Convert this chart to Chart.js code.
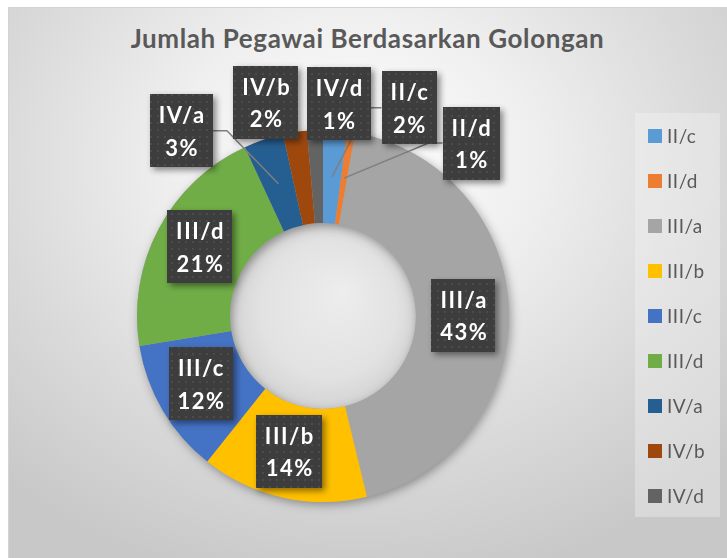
<!DOCTYPE html>
<html><head><meta charset="utf-8">
<script src="https://cdn.jsdelivr.net/npm/chart.js@4.4.1/dist/chart.umd.min.js"></script>
<style>
html,body{margin:0;padding:0;background:#fff;width:727px;height:558px;overflow:hidden;}
#panel{position:absolute;left:8px;top:7px;width:719px;height:551px;box-sizing:border-box;border-left:1px solid #d3d3d3;border-top:1px solid #d3d3d3;
background:radial-gradient(ellipse 72% 78% at 48% 28%, #ffffff 0%, #efefef 35%, #d9d9d9 70%, #c8c8c8 100%);}
#title{position:absolute;left:8px;width:719px;top:22px;line-height:30px;text-align:center;font:bold 26px Lato, sans-serif;letter-spacing:0.6px;color:#595959;}
canvas{position:absolute;left:0;top:0;}
</style></head>
<body>
<div id="panel"></div>
<div id="title">Jumlah Pegawai Berdasarkan Golongan</div>
<canvas id="c" width="727" height="558"></canvas>
<script>
const categories = ['II/c','II/d','III/a','III/b','III/c','III/d','IV/a','IV/b','IV/d'];
const pegawai = [3, 1, 63, 21, 17, 30, 5, 3, 2];
const colors = ['#5B9BD5','#ED7D31','#A5A5A5','#FFC000','#4472C4','#70AD47','#255E91','#9E480E','#636363'];
const labelOffsets = [[77,-69],[127,-35],[1,4],[-4,-1],[-2,-3],[0,-4],[-97,-53],[-36,-76],[22,-73]];
const labelLeader = [true, true, false, false, false, false, true, false, false];

function makePattern(ctx){
  const c = document.createElement('canvas'); c.width = 7; c.height = 7;
  const p = c.getContext('2d');
  p.fillStyle = '#3d3d3d'; p.fillRect(0,0,7,7);
  p.fillStyle = '#4c4c4c'; p.fillRect(3,3,2,2);
  return ctx.createPattern(c, 'repeat');
}

const ringShadow = {
  id: 'ringShadow',
  beforeDatasetsDraw(chart){
    const ctx = chart.ctx;
    const arc = chart.getDatasetMeta(0).data[0];
    const {x, y, innerRadius, outerRadius} = arc.getProps(['x','y','innerRadius','outerRadius'], true);
    ctx.save();
    const g = ctx.createRadialGradient(x+20, y-25, 0, x, y, innerRadius+4);
    g.addColorStop(0, '#ededed'); g.addColorStop(0.7, '#e2e2e2'); g.addColorStop(1, '#d2d2d2');
    ctx.beginPath(); ctx.arc(x, y, innerRadius+2, 0, Math.PI*2); ctx.fillStyle = g; ctx.fill();
    ctx.shadowColor = 'rgba(0,0,0,0.35)'; ctx.shadowBlur = 10; ctx.shadowOffsetX = 2; ctx.shadowOffsetY = 3;
    ctx.beginPath();
    ctx.arc(x, y, outerRadius, 0, Math.PI*2);
    ctx.arc(x, y, innerRadius, 0, Math.PI*2, true);
    ctx.fillStyle = '#a5a5a5'; ctx.fill();
    ctx.restore();
  }
};

const dataLabels = {
  id: 'dataLabels',
  afterDatasetsDraw(chart){
    const ctx = chart.ctx;
    const meta = chart.getDatasetMeta(0);
    const data = chart.data.datasets[0].data;
    const total = data.reduce((a,b)=>a+b, 0);
    ctx.save();
    ctx.font = 'bold 22px Lato, sans-serif';
    ctx.letterSpacing = '1.5px';
    const boxes = meta.data.map((arc, i) => {
      const p = arc.getCenterPoint(true);
      const cx = p.x + labelOffsets[i][0], cy = p.y + labelOffsets[i][1];
      const l1 = chart.data.labels[i], l2 = Math.round(data[i]/total*100) + '%';
      const w = Math.round(Math.max(ctx.measureText(l1).width, ctx.measureText(l2).width) + 16);
      return {p, cx, cy, w, h: 73, l1, l2};
    });
    ctx.strokeStyle = '#7f7f7f'; ctx.lineWidth = 1.5;
    boxes.forEach((b, i) => {
      if (!labelLeader[i]) return;
      const side = b.cx > b.p.x ? -1 : 1;
      const ex = b.cx + side*b.w/2, kx = ex + side*14;
      ctx.beginPath(); ctx.moveTo(b.p.x, b.p.y); ctx.lineTo(kx, b.cy); ctx.lineTo(ex, b.cy); ctx.stroke();
    });
    const pat = makePattern(ctx);
    boxes.forEach(b => {
      const x0 = Math.round(b.cx - b.w/2), y0 = Math.round(b.cy - b.h/2);
      ctx.save();
      ctx.shadowColor = 'rgba(0,0,0,0.45)'; ctx.shadowBlur = 6; ctx.shadowOffsetX = 3; ctx.shadowOffsetY = 3;
      ctx.fillStyle = pat; ctx.fillRect(x0, y0, b.w, b.h);
      ctx.restore();
      ctx.fillStyle = '#ffffff'; ctx.textAlign = 'center'; ctx.textBaseline = 'alphabetic';
      ctx.fillText(b.l1, b.cx + 0.75, b.cy - 7.5);
      ctx.fillText(b.l2, b.cx + 0.75, b.cy + 25);
    });
    ctx.restore();
  }
};

const sideLegend = {
  id: 'sideLegend',
  afterDraw(chart){
    const ctx = chart.ctx;
    const ds = chart.data.datasets[0];
    ctx.save();
    ctx.fillStyle = 'rgba(245,245,245,0.35)';
    ctx.fillRect(635, 113, 85, 404);
    ctx.font = '19px Lato, sans-serif';
    ctx.letterSpacing = '0.5px';
    ctx.textBaseline = 'middle'; ctx.textAlign = 'left';
    chart.data.labels.forEach((lab, i) => {
      const yc = 136 + 45*i;
      ctx.fillStyle = ds.backgroundColor[i];
      ctx.fillRect(648, yc-7, 14, 14);
      ctx.fillStyle = '#595959';
      ctx.fillText(lab, 667, yc+1);
    });
    ctx.restore();
  }
};

new Chart(document.getElementById('c'), {
  type: 'doughnut',
  data: {
    labels: categories,
    datasets: [{ data: pegawai, backgroundColor: colors, borderWidth: 0, hoverOffset: 0, offset: 0 }]
  },
  options: {
    responsive: false, animation: false, devicePixelRatio: 1,
    cutout: '50%',
    layout: { padding: { left: 137, right: 218, top: 130, bottom: 56 } },
    plugins: { legend: { display: false }, title: { display: false }, tooltip: { enabled: false } },
    events: []
  },
  plugins: [ringShadow, dataLabels, sideLegend]
});
</script>
</body></html>
